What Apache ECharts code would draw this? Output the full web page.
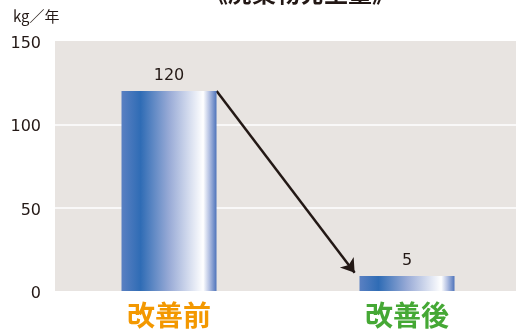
<!DOCTYPE html>
<html>
<head>
<meta charset="utf-8">
<script src="https://cdn.jsdelivr.net/npm/echarts@6/dist/echarts.min.js"></script>
<style>
  html, body { margin: 0; padding: 0; background: #fff; }
  #main { width: 516px; height: 329px; }
</style>
</head>
<body>
<div id="main"></div>
<script>
// data
const categories = ['改善前', '改善後'];
const values = [120, 5];
const yTicks = { min: 0, max: 150, interval: 50 };
const unitLabel = 'kg／年';
const titleText = '《廃棄物発生量》';

const labelColors = ['#f39800', '#45a835'];

const barGradient = new echarts.graphic.LinearGradient(0, 0, 1, 0, [
  { offset: 0, color: '#5a80c2' },
  { offset: 0.2, color: '#2f6cb5' },
  { offset: 0.5, color: '#98aad6' },
  { offset: 0.86, color: '#ffffff' },
  { offset: 0.92, color: '#b8c4e4' },
  { offset: 1, color: '#4f74bb' }
]);

const chart = echarts.init(document.getElementById('main'), null, { renderer: 'canvas' });

const option = {
  animation: false,
  title: {
    text: titleText,
    left: 295,
    textAlign: 'center',
    top: -24,
    textStyle: { fontSize: 24, fontWeight: 'bold', color: '#231815', fontFamily: 'Noto Sans CJK JP' }
  },
  graphic: [
    {
      type: 'text',
      left: 13,
      top: 9,
      style: { text: unitLabel, fontSize: 15, fill: '#231815', fontFamily: 'Noto Sans CJK JP' }
    }
  ],
  grid: [
    { left: 55, right: 0, top: 41, bottom: 38, show: true, backgroundColor: '#e8e4e1', borderWidth: 0 },
    { left: 50, width: 476, top: 41, bottom: 38, outerBoundsMode: 'none', containLabel: false }
  ],
  xAxis: [
    { gridIndex: 0, type: 'value', show: false },
    {
      gridIndex: 1,
      type: 'category',
      data: categories,
      axisLine: { show: false },
      axisTick: { show: false },
      axisLabel: {
        margin: 10,
        fontSize: 28,
        fontWeight: 'bold',
        fontFamily: 'Noto Sans CJK JP',
        color: (v, i) => labelColors[i]
      }
    },
    { gridIndex: 1, type: 'value', min: -0.5, max: 1.5, show: false }
  ],
  yAxis: [
    {
      gridIndex: 0,
      type: 'value',
      min: yTicks.min,
      max: yTicks.max,
      interval: yTicks.interval,
      axisLine: { show: false },
      axisTick: { show: false },
      axisLabel: {
        margin: 14,
        fontSize: 16,
        color: '#231815',
        fontFamily: 'DejaVu Sans',
        verticalAlign: 'top',
        padding: [-5, 0, 0, 0]
      },
      splitLine: {
        lineStyle: { color: '#ffffff', width: 1.5 },
        showMinLine: false,
        showMaxLine: false
      }
    },
    { gridIndex: 1, type: 'value', min: yTicks.min, max: yTicks.max, interval: yTicks.interval, show: false }
  ],
  series: [
    {
      type: 'bar',
      xAxisIndex: 1,
      yAxisIndex: 1,
      data: values,
      barWidth: 95,
      barMinHeight: 15,
      itemStyle: { color: barGradient },
      label: {
        show: true,
        position: 'top',
        distance: 7,
        fontSize: 16,
        color: '#231815',
        fontFamily: 'DejaVu Sans'
      }
    },
    {
      type: 'lines',
      coordinateSystem: 'cartesian2d',
      xAxisIndex: 2,
      yAxisIndex: 1,
      symbol: ['none', 'arrow'],
      symbolSize: 13,
      lineStyle: { color: '#231815', width: 2.5, opacity: 1 },
      data: [{ coords: [[0.2, values[0]], [0.78, values[1] + 6]] }]
    }
  ]
};

chart.setOption(option);
</script>
</body>
</html>
